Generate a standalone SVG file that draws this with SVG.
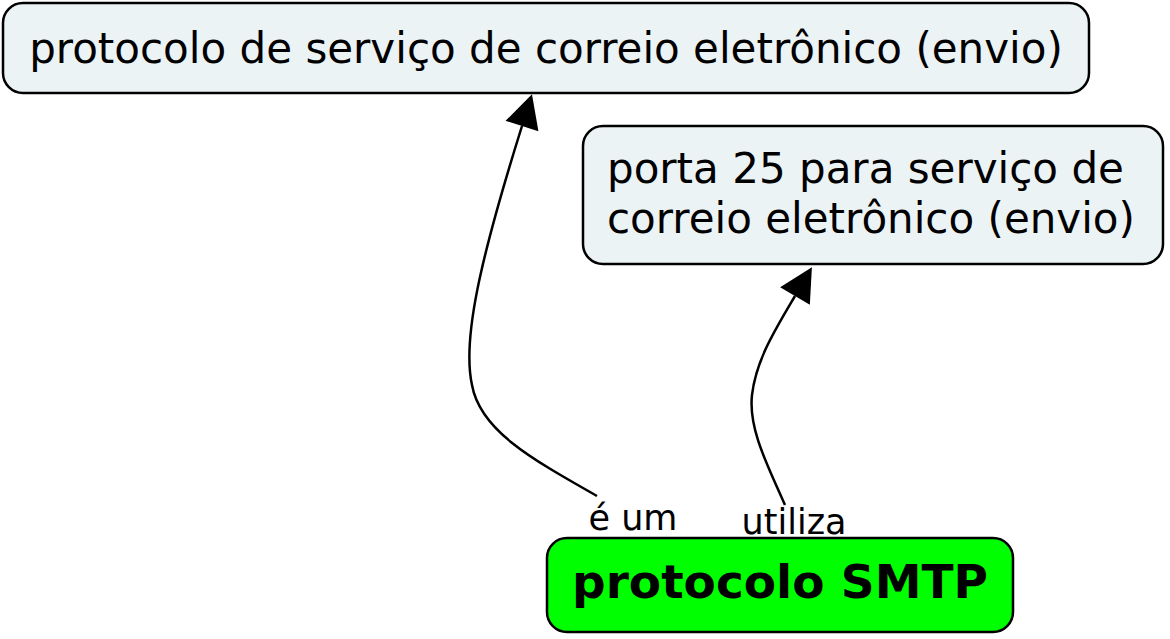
<svg xmlns="http://www.w3.org/2000/svg" width="1170" height="639" viewBox="0 0 1170 639">
<style>
.node{fill:#ecf3f5;stroke:#000;stroke-width:2.5}
.main{fill:#00ff00;stroke:#000;stroke-width:2.5}
.t{font-family:"DejaVu Sans",Verdana,sans-serif;fill:#000}
.conn{fill:none;stroke:#000;stroke-width:2.5;marker-end:url(#arr)}
.lbl{font-family:"DejaVu Sans",Verdana,sans-serif;font-size:35px;fill:#000}
</style>
<defs>
<marker id="arr" markerUnits="userSpaceOnUse" markerWidth="40" markerHeight="40" viewBox="-2 -18 36 36" refX="0" refY="0" orient="auto">
<path d="M0,-15.5 L30,0 L0,15.5 z" fill="#000"/>
</marker>
</defs>
<rect width="1170" height="639" fill="#fff"/>
<g id="connectors">
<path class="conn" d="M597,496 C530,458 480,430 472,385 C462,340 480,260 522,126"/>
<path class="conn" d="M785,505 C770,470 748,430 752,395 C756,360 775,330 795,296"/>
<text class="lbl" x="633" y="530" text-anchor="middle">é um</text>
<text class="lbl" x="794" y="534" text-anchor="middle">utiliza</text>
</g>
<g id="n1">
<rect class="node" x="3" y="3" width="1086" height="90" rx="20"/>
<text class="t" x="546" y="63" font-size="42" text-anchor="middle">protocolo de serviço de correio eletrônico (envio)</text>
</g>
<g id="n2">
<rect class="node" x="583" y="126" width="580" height="138" rx="20"/>
<text class="t" x="607" y="183" font-size="42">porta 25 para serviço de</text>
<text class="t" x="607" y="233" font-size="42">correio eletrônico (envio)</text>
</g>
<g id="n3">
<rect class="main" x="547" y="538" width="466" height="94" rx="20"/>
<text class="t" x="780" y="598" font-size="47" font-weight="bold" text-anchor="middle">protocolo SMTP</text>
</g>
</svg>
